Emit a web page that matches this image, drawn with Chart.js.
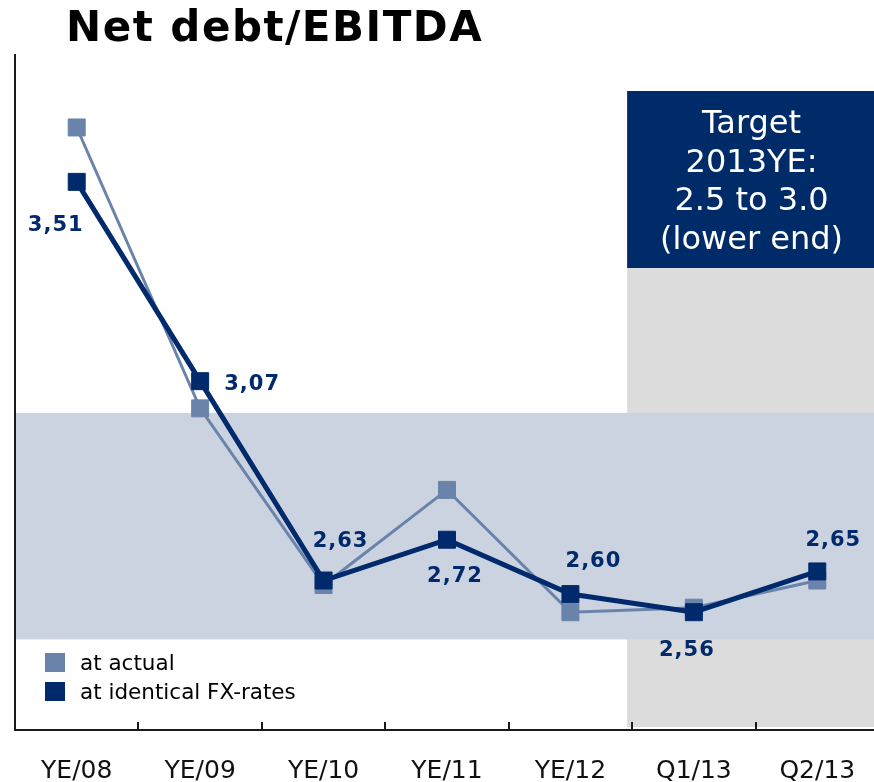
<!DOCTYPE html>
<html lang="en">
<head>
<meta charset="UTF-8">
<title>Net debt/EBITDA</title>
<script src="https://cdn.jsdelivr.net/npm/chart.js"></script>
<style>
    html, body {
        margin: 0;
        background: #ffffff;
        overflow: hidden;
        font-family: "DejaVu Sans", Verdana, sans-serif;
    }
    .wrap {
        position: relative;
        width: 874px;
        height: 782px;
        overflow: hidden;
    }
    #debtChart {
        display: block;
        position: absolute;
        left: 0;
        top: 0;
    }
    h1 {
        position: absolute;
        left: 66px;
        top: 6px;
        margin: 0;
        font-size: 42px;
        line-height: 1;
        font-weight: bold;
        letter-spacing: 1.5px;
        color: #000;
    }
    .legend {
        position: absolute;
        left: 45px;
        top: 648px;
        font-size: 21.5px;
        color: #000;
    }
    .legend div {
        display: flex;
        align-items: center;
        height: 29px;
    }
    .legend .sw {
        width: 20px;
        height: 19px;
        margin-right: 15px;
    }
</style>
</head>
<body>
<div class="wrap">
    <!-- canvas is a bit wider than the window: the plot runs past the right edge -->
    <canvas id="debtChart" width="892" height="782"></canvas>
    <h1>Net debt/EBITDA</h1>
    <div class="legend">
        <div><span class="sw" style="background:#6a83aa"></span>at actual</div>
        <div><span class="sw" style="background:#002a6b"></span>at identical FX-rates</div>
    </div>
</div>

<script>
    // values
    const categories = ['YE/08', 'YE/09', 'YE/10', 'YE/11', 'YE/12', 'Q1/13', 'Q2/13'];
    const atActual = [3.63, 3.01, 2.62, 2.83, 2.56, 2.57, 2.63];
    const atIdenticalFx = [3.51, 3.07, 2.63, 2.72, 2.60, 2.56, 2.65];
    const fxLabels = ['3,51', '3,07', '2,63', '2,72', '2,60', '2,56', '2,65'];
    const targetBand = [2.5, 3.0];
    const targetText = ['Target', '2013YE:', '2.5 to 3.0', '(lower end)'];

    // label placement around each FX point (dx, dy in px)
    const labelOffsets = [[-21, 44], [52, 3], [17, -39], [8, 37], [23, -33], [-7, 38], [16, -31]];

    const navy = '#002a6b';
    const steel = '#6a83aa';
    const viewWidth = 874;

    const backdrop = {
        id: 'backdrop',
        beforeDraw(chart) {
            const {ctx, chartArea: a, scales: {x, y}} = chart;
            const gx = (x.getPixelForValue(4) + x.getPixelForValue(5)) / 2 - 5;
            const boxTop = a.top + 36;
            ctx.save();
            // grey forecast area
            ctx.fillStyle = '#dcdcdc';
            ctx.fillRect(gx, boxTop, a.right - gx, a.bottom - 3 - boxTop);
            // target band
            const yTop = y.getPixelForValue(targetBand[1]);
            const yBot = y.getPixelForValue(targetBand[0]);
            ctx.fillStyle = '#cbd3e0';
            ctx.fillRect(a.left + 1, yTop, a.right - a.left, yBot - yTop);
            // target box
            ctx.fillStyle = '#002b69';
            ctx.fillRect(gx, boxTop, a.right - gx, 177);
            ctx.fillStyle = '#ffffff';
            ctx.font = '32px "DejaVu Sans"';
            ctx.textAlign = 'center';
            ctx.textBaseline = 'alphabetic';
            const cx = (gx + viewWidth) / 2 + 1;
            targetText.forEach((t, i) => ctx.fillText(t, cx, boxTop + 42 + i * 38.7));
            ctx.restore();
        },
        afterDatasetsDraw(chart) {
            const {ctx} = chart;
            const meta = chart.getDatasetMeta(0);
            ctx.save();
            ctx.fillStyle = navy;
            ctx.font = 'bold 21px "DejaVu Sans"';
            ctx.letterSpacing = '1px';
            ctx.textAlign = 'center';
            ctx.textBaseline = 'middle';
            meta.data.forEach((pt, i) => {
                const [dx, dy] = labelOffsets[i];
                ctx.fillText(fxLabels[i], pt.x + dx, pt.y + dy);
            });
            ctx.restore();
        },
        afterDraw(chart) {
            const {ctx, chartArea: a, scales: {x}} = chart;
            ctx.save();
            ctx.strokeStyle = '#1a1a1a';
            ctx.lineWidth = 2;
            for (let i = 0; i < categories.length - 1; i++) {
                const px = Math.round((x.getPixelForValue(i) + x.getPixelForValue(i + 1)) / 2);
                ctx.beginPath();
                ctx.moveTo(px, a.bottom);
                ctx.lineTo(px, a.bottom - 8);
                ctx.stroke();
            }
            ctx.restore();
        }
    };

    const chart = new Chart(document.getElementById('debtChart'), {
        type: 'line',
        data: {
            labels: categories,
            datasets: [{
                label: 'at identical FX-rates',
                data: atIdenticalFx,
                order: 0,
                borderColor: navy,
                borderWidth: 5,
                backgroundColor: navy,
                pointStyle: 'rect',
                pointRadius: 12,
                pointBorderWidth: 1,
                pointBackgroundColor: navy,
                pointBorderColor: navy,
                tension: 0
            }, {
                label: 'at actual',
                data: atActual,
                order: 1,
                borderColor: steel,
                borderWidth: 3,
                backgroundColor: steel,
                pointStyle: 'rect',
                pointRadius: 12,
                pointBorderWidth: 1,
                pointBackgroundColor: steel,
                pointBorderColor: steel,
                tension: 0
            }]
        },
        options: {
            responsive: false,
            animation: false,
            layout: {
                padding: {left: 15, right: 4.5, top: 55, bottom: 0}
            },
            plugins: {
                legend: {display: false},
                tooltip: {enabled: false}
            },
            scales: {
                x: {
                    type: 'category',
                    offset: true,
                    grid: {display: false},
                    border: {display: true, color: '#1a1a1a', width: 2},
                    ticks: {
                        color: '#111',
                        font: {family: '"DejaVu Sans"', size: 25},
                        padding: 18,
                        maxRotation: 0,
                        autoSkip: false
                    },
                    afterFit(scale) {
                        scale.height = 52;
                        scale.paddingLeft = 0;
                        scale.paddingRight = 0;
                    }
                },
                y: {
                    min: 2.3,
                    max: 3.79,
                    grid: {display: false},
                    border: {display: true, color: '#1a1a1a', width: 2},
                    ticks: {display: false},
                    afterFit(scale) { scale.width = 0; }
                }
            }
        },
        plugins: [backdrop]
    });
</script>
</body>
</html>
